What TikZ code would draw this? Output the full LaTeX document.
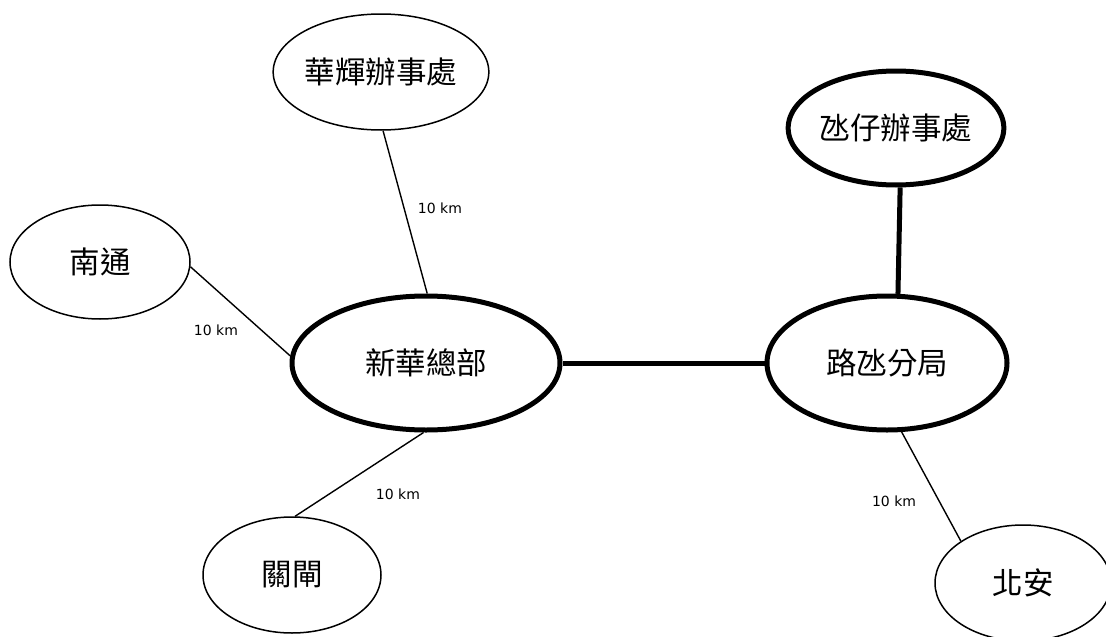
\documentclass[tikz,border=0pt]{standalone}
\usepackage{fontspec}
\setmainfont{DejaVu Sans}
\newfontfamily\cjk{Noto Sans CJK TC}
\usetikzlibrary{shapes.geometric}
\tikzset{
  place/.style={ellipse, draw=black, line width=1.5pt, fill=white, inner sep=0pt, font=\cjk\fontsize{30.5}{32}\selectfont},
  hub/.style={place, line width=5pt},
  link/.style={draw=black, line width=1.4pt},
  trunk/.style={draw=black, line width=5pt},
  dist/.style={font=\fontsize{14}{16}\selectfont, inner sep=0pt}
}
\begin{document}
\begin{tikzpicture}[x=1pt,y=-1pt]
\useasboundingbox (0,0) rectangle (1106,637);
\node[place, minimum width=178pt, minimum height=116pt] (hh) at (381,72) {華輝辦事處};
\node[hub, minimum width=178pt, minimum height=114pt] (tz) at (896,128) {氹仔辦事處};
\node[place, minimum width=180pt, minimum height=114pt] (nt) at (100,262) {南通};
\node[hub, minimum width=268pt, minimum height=134pt] (xh) at (426,363) {新華總部};
\node[hub, minimum width=240pt, minimum height=134pt] (lf) at (887,363) {路氹分局};
\node[place, minimum width=178pt, minimum height=116pt] (gz) at (292,575) {關閘};
\node[place, minimum width=176pt, minimum height=116pt] (ba) at (1023,583) {北安};

\draw[link] (hh.-88) -- (xh.89);
\draw[link] (nt.-3) -- (xh.177);
\draw[link] (xh.-92) -- (gz.87);
\draw[link] (lf.-78) -- (ba.146);
\draw[trunk] (xh.east) -- (lf.west);
\draw[trunk] (tz.-86) -- (lf.81);

\node[dist] (d1) at (440,208) {10 km};
\node[dist] (d2) at (216,330) {10 km};
\node[dist] (d3) at (398,494) {10 km};
\node[dist] (d4) at (894,501) {10 km};
\end{tikzpicture}
\end{document}
